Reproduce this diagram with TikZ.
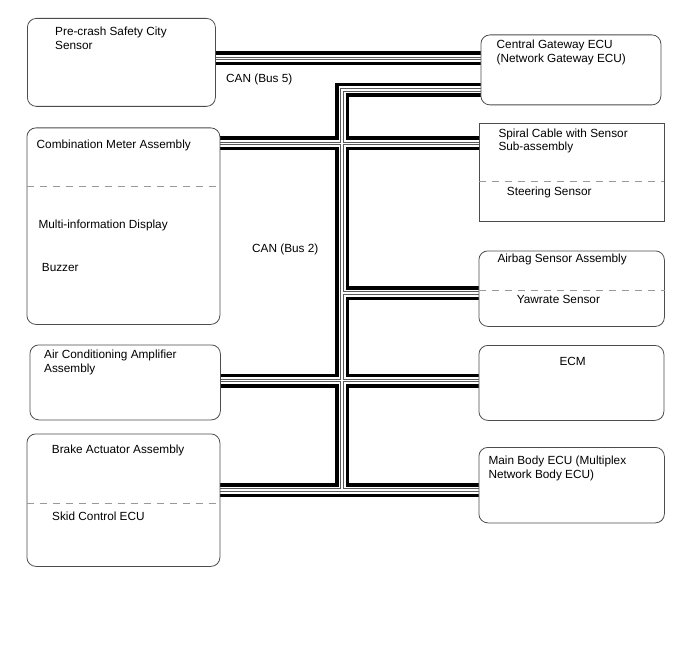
\documentclass[tikz,border=0pt]{standalone}
\usepackage{fontspec}
\setmainfont{Liberation Sans}
\usetikzlibrary{backgrounds}

\begin{document}
\begin{tikzpicture}[x=1pt,y=-1pt,
    unit/.style={draw=black!70,line width=0.8pt,rounded corners=9pt,fill=white,anchor=north west,inner sep=0pt},
    lbl/.style={inner sep=0pt,anchor=north west,align=left,font=\fontsize{11.8}{13.6}\selectfont},
    divider/.style={draw=black!40,line width=0.8pt,dash pattern=on 7pt off 6pt},
    busa/.style={line width=14pt,black},
    busb/.style={line width=7pt,white},
    busc/.style={line width=3.8pt,black!65},
    busd/.style={line width=1.6pt,white}]
    \useasboundingbox (0,0) rectangle (688,658);
    % left side units
    \node[unit,minimum width=188pt,minimum height=88pt] (pcs) at (27,18) {};
    \node[unit,minimum width=193pt,minimum height=196.5pt] (cma) at (26.5,127.5) {};
    \node[unit,minimum width=190.5pt,minimum height=75pt] (ac) at (29.5,344.5) {};
    \node[unit,minimum width=193pt,minimum height=132.5pt] (brk) at (26.5,433.5) {};
    % right side units
    \node[unit,minimum width=180pt,minimum height=70pt] (gw) at (480.5,34.5) {};
    \node[unit,rounded corners=0pt,minimum width=185pt,minimum height=97.5pt] (spc) at (478.5,123.5) {};
    \node[unit,minimum width=185.5pt,minimum height=75.5pt] (abg) at (478.5,250.5) {};
    \node[unit,minimum width=185pt,minimum height=75pt] (ecm) at (478.5,345) {};
    \node[unit,minimum width=185.5pt,minimum height=75.5pt] (mb) at (478.5,447) {};
    % texts
    \node[lbl] (pcstxt) at ([shift={(28,8.7)}]pcs.north west) {Pre-crash Safety City\\Sensor};
    \node[lbl] (cmatxt) at ([shift={(10,12)}]cma.north west) {Combination Meter Assembly};
    \node[lbl] (mid) at ([shift={(11.8,91.8)}]cma.north west) {Multi-information Display};
    \node[lbl] (buz) at ([shift={(15.2,135.2)}]cma.north west) {Buzzer};
    \node[lbl] (actxt) at ([shift={(14.5,5.5)}]ac.north west) {Air Conditioning Amplifier\\Assembly};
    \node[lbl] (brktxt) at ([shift={(25.2,11)}]brk.north west) {Brake Actuator Assembly};
    \node[lbl] (skid) at ([shift={(25.5,78)}]brk.north west) {Skid Control ECU};
    \node[lbl] (gwtxt) at ([shift={(16,5.5)}]gw.north west) {Central Gateway ECU\\(Network Gateway ECU)};
    \node[lbl] (spctxt) at ([shift={(19.8,4.8)}]spc.north west) {Spiral Cable with Sensor\\Sub-assembly};
    \node[lbl] (steer) at ([shift={(28.2,63.2)}]spc.north west) {Steering Sensor};
    \node[lbl] (abgtxt) at ([shift={(18.8,2.8)}]abg.north west) {Airbag Sensor Assembly};
    \node[lbl] (yaw) at ([shift={(38.2,44.5)}]abg.north west) {Yawrate Sensor};
    \node[lbl] (ecmtxt) at ([shift={(80.8,11.7)}]ecm.north west) {ECM};
    \node[lbl] (mbtxt) at ([shift={(9.8,9)}]mb.north west) {Main Body ECU (Multiplex\\Network Body ECU)};
    \node[lbl] (bus5) at (226,73.3) {CAN (Bus 5)};
    \node[lbl] (bus2) at (252,243.5) {CAN (Bus 2)};
    % dividers
    \coordinate (d1) at (0,186); \coordinate (d2) at (0,181.5);
    \coordinate (d3) at (0,290.7); \coordinate (d4) at (0,503);
    \draw[divider] (cma.west |- d1) -- (cma.east |- d1);
    \draw[divider] (spc.west |- d2) -- (spc.east |- d2);
    \draw[divider] (abg.west |- d3) -- (abg.east |- d3);
    \draw[divider] (brk.west |- d4) -- (brk.east |- d4);
    % bus junctions
    \coordinate (b5) at (0,58.5);
    \coordinate (j1) at (342,90); \coordinate (j2) at (342,143.5);
    \coordinate (j3) at (342,293); \coordinate (j4) at (342,380.5);
    \coordinate (j5) at (342,490);
    \begin{pgfonlayer}{background}
    \foreach \lay in {busa,busb,busc,busd}{
      \draw[\lay] (pcs.east |- b5) -- (gw.west |- b5);
      \draw[\lay] (gw.west |- j1) -- (j1) -- (j5);
      \draw[\lay] (cma.east |- j2) -- (spc.west |- j2);
      \draw[\lay] (j3) -- (abg.west |- j3);
      \draw[\lay] (ac.east |- j4) -- (ecm.west |- j4);
      \draw[\lay] (brk.east |- j5) -- (mb.west |- j5);
    }
    \end{pgfonlayer}
  \end{tikzpicture}
\end{document}
